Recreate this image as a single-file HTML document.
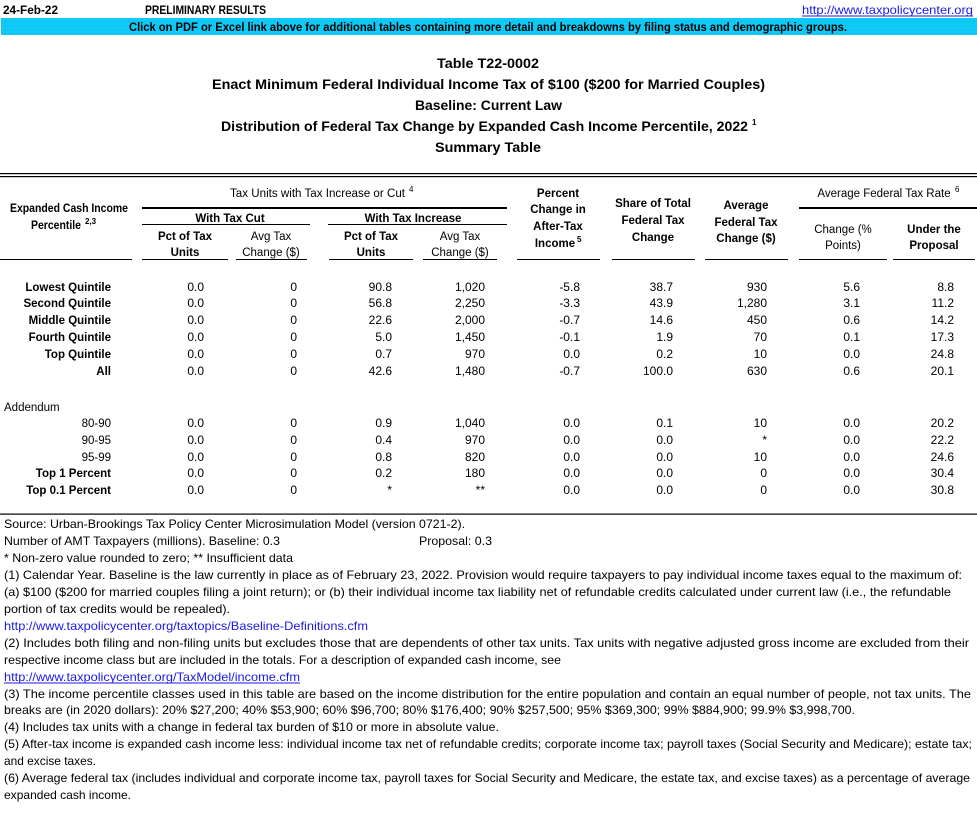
<!DOCTYPE html>
<html><head><meta charset="utf-8"><style>
html,body{margin:0;padding:0;background:#fff;}
svg{display:block;}
text{font-family:"Liberation Sans",Arial,sans-serif;fill:#000;}
.b{font-weight:bold;}
.h{font-size:11.5px;}
.d{font-size:12px;}
.f{font-size:12px;}
.t{font-size:13.5px;font-weight:bold;}
.lnk{fill:#1a1ae6;}
.sup{font-size:8px;}
</style></head><body>
<svg width="977" height="821" viewBox="0 0 977 821" xmlns="http://www.w3.org/2000/svg">
<defs>
<pattern id="dots" width="4" height="4" patternUnits="userSpaceOnUse">
<rect width="4" height="4" fill="#0fcaf6"/><rect x="1" y="1" width="1" height="1" fill="#0ab4e0"/>
</pattern>
</defs>
<!-- top line -->
<text x="3" y="14" class="b f" textLength="55" lengthAdjust="spacingAndGlyphs">24-Feb-22</text>
<text x="145" y="14" class="b f" textLength="121" lengthAdjust="spacingAndGlyphs">PRELIMINARY RESULTS</text>
<text x="802" y="14" class="f lnk" textLength="171" lengthAdjust="spacingAndGlyphs">http://www.taxpolicycenter.org</text>
<rect x="802" y="15.5" width="171" height="1" fill="#1a1ae6"/>
<rect x="1" y="18" width="976" height="17" fill="url(#dots)"/>
<text x="129" y="31" class="b f" textLength="718" lengthAdjust="spacingAndGlyphs">Click on PDF or Excel link above for additional tables containing more detail and breakdowns by filing status and demographic groups.</text>

<!-- titles -->
<text x="437" y="68" class="t" textLength="102" lengthAdjust="spacingAndGlyphs">Table T22-0002</text>
<text x="212" y="89" class="t" textLength="553" lengthAdjust="spacingAndGlyphs">Enact Minimum Federal Individual Income Tax of $100 ($200 for Married Couples)</text>
<text x="415" y="110" class="t" textLength="147" lengthAdjust="spacingAndGlyphs">Baseline: Current Law</text>
<text x="221" y="131" class="t" textLength="527" lengthAdjust="spacingAndGlyphs">Distribution of Federal Tax Change by Expanded Cash Income Percentile, 2022</text>
<text x="752" y="125" class="b sup">1</text>
<text x="435" y="152" class="t" textLength="106" lengthAdjust="spacingAndGlyphs">Summary Table</text>

<!-- header rules -->
<rect x="0" y="173" width="977" height="1.2" fill="#000"/>
<rect x="0" y="176" width="977" height="1.2" fill="#000"/>
<rect x="142" y="207" width="365" height="2" fill="#000"/>
<rect x="799" y="207" width="178" height="2" fill="#000"/>
<rect x="142" y="224" width="168" height="1" fill="#000"/>
<rect x="328" y="224" width="179" height="1" fill="#000"/>
<g fill="#000">
<rect x="0" y="259" width="132" height="1"/>
<rect x="142" y="259" width="86" height="1"/>
<rect x="236" y="259" width="71" height="1"/>
<rect x="329" y="259" width="84" height="1"/>
<rect x="423" y="259" width="74" height="1"/>
<rect x="517" y="259" width="83" height="1"/>
<rect x="612" y="259" width="83" height="1"/>
<rect x="705" y="259" width="83" height="1"/>
<rect x="799" y="259" width="88" height="1"/>
<rect x="893" y="259" width="82" height="1"/>
</g>

<!-- header text -->
<text x="10" y="212" class="b h" textLength="118" lengthAdjust="spacingAndGlyphs">Expanded Cash Income</text>
<text x="31" y="229" class="b h" textLength="50" lengthAdjust="spacingAndGlyphs">Percentile</text>
<text x="85" y="224" class="b sup">2,3</text>
<text x="230" y="197" class="h" textLength="175" lengthAdjust="spacingAndGlyphs">Tax Units with Tax Increase or Cut</text>
<text x="409" y="192" class="sup">4</text>
<g class="h" text-anchor="middle">
<text x="230" y="222" class="b">With Tax Cut</text>
<text x="413" y="222" class="b">With Tax Increase</text>
<text x="185" y="240" class="b">Pct of Tax</text>
<text x="185" y="256" class="b">Units</text>
<text x="271" y="240">Avg Tax</text>
<text x="271" y="256">Change ($)</text>
<text x="371" y="240" class="b">Pct of Tax</text>
<text x="371" y="256" class="b">Units</text>
<text x="460" y="240">Avg Tax</text>
<text x="460" y="256">Change ($)</text>
<text x="558" y="197" class="b">Percent</text>
<text x="558" y="213" class="b">Change in</text>
<text x="558" y="230" class="b">After-Tax</text>
<text x="555" y="247" class="b">Income</text>
<text x="653" y="207" class="b">Share of Total</text>
<text x="653" y="224" class="b">Federal Tax</text>
<text x="653" y="241" class="b">Change</text>
<text x="746" y="209" class="b">Average</text>
<text x="746" y="226" class="b">Federal Tax</text>
<text x="746" y="242" class="b">Change ($)</text>
<text x="884" y="197">Average Federal Tax Rate</text>
<text x="843" y="233">Change (%</text>
<text x="843" y="249">Points)</text>
<text x="934" y="233" class="b">Under the</text>
<text x="934" y="249" class="b">Proposal</text>
</g>
<text x="577" y="242" class="b sup">5</text>
<text x="955" y="192" class="sup">6</text>

<!-- data rows -->
<g class="d" text-anchor="end">
<g class="b h">
<text x="111" y="291">Lowest Quintile</text>
<text x="111" y="307">Second Quintile</text>
<text x="111" y="324">Middle Quintile</text>
<text x="111" y="341">Fourth Quintile</text>
<text x="111" y="358">Top Quintile</text>
<text x="111" y="375">All</text>
<text x="111" y="477">Top 1 Percent</text>
<text x="111" y="494">Top 0.1 Percent</text>
</g>
<g class="h">
<text x="111" y="427">80-90</text>
<text x="111" y="444">90-95</text>
<text x="111" y="461">95-99</text>
</g>
<text x="204" y="291">0.0</text><text x="297" y="291">0</text><text x="392" y="291">90.8</text><text x="485" y="291">1,020</text><text x="580" y="291">-5.8</text><text x="673" y="291">38.7</text><text x="767" y="291">930</text><text x="860" y="291">5.6</text><text x="954" y="291">8.8</text>
<text x="204" y="307">0.0</text><text x="297" y="307">0</text><text x="392" y="307">56.8</text><text x="485" y="307">2,250</text><text x="580" y="307">-3.3</text><text x="673" y="307">43.9</text><text x="767" y="307">1,280</text><text x="860" y="307">3.1</text><text x="954" y="307">11.2</text>
<text x="204" y="324">0.0</text><text x="297" y="324">0</text><text x="392" y="324">22.6</text><text x="485" y="324">2,000</text><text x="580" y="324">-0.7</text><text x="673" y="324">14.6</text><text x="767" y="324">450</text><text x="860" y="324">0.6</text><text x="954" y="324">14.2</text>
<text x="204" y="341">0.0</text><text x="297" y="341">0</text><text x="392" y="341">5.0</text><text x="485" y="341">1,450</text><text x="580" y="341">-0.1</text><text x="673" y="341">1.9</text><text x="767" y="341">70</text><text x="860" y="341">0.1</text><text x="954" y="341">17.3</text>
<text x="204" y="358">0.0</text><text x="297" y="358">0</text><text x="392" y="358">0.7</text><text x="485" y="358">970</text><text x="580" y="358">0.0</text><text x="673" y="358">0.2</text><text x="767" y="358">10</text><text x="860" y="358">0.0</text><text x="954" y="358">24.8</text>
<text x="204" y="375">0.0</text><text x="297" y="375">0</text><text x="392" y="375">42.6</text><text x="485" y="375">1,480</text><text x="580" y="375">-0.7</text><text x="673" y="375">100.0</text><text x="767" y="375">630</text><text x="860" y="375">0.6</text><text x="954" y="375">20.1</text>

<text x="204" y="427">0.0</text><text x="297" y="427">0</text><text x="392" y="427">0.9</text><text x="485" y="427">1,040</text><text x="580" y="427">0.0</text><text x="673" y="427">0.1</text><text x="767" y="427">10</text><text x="860" y="427">0.0</text><text x="954" y="427">20.2</text>
<text x="204" y="444">0.0</text><text x="297" y="444">0</text><text x="392" y="444">0.4</text><text x="485" y="444">970</text><text x="580" y="444">0.0</text><text x="673" y="444">0.0</text><text x="767" y="444">*</text><text x="860" y="444">0.0</text><text x="954" y="444">22.2</text>
<text x="204" y="461">0.0</text><text x="297" y="461">0</text><text x="392" y="461">0.8</text><text x="485" y="461">820</text><text x="580" y="461">0.0</text><text x="673" y="461">0.0</text><text x="767" y="461">10</text><text x="860" y="461">0.0</text><text x="954" y="461">24.6</text>
<text x="204" y="477">0.0</text><text x="297" y="477">0</text><text x="392" y="477">0.2</text><text x="485" y="477">180</text><text x="580" y="477">0.0</text><text x="673" y="477">0.0</text><text x="767" y="477">0</text><text x="860" y="477">0.0</text><text x="954" y="477">30.4</text>
<text x="204" y="494">0.0</text><text x="297" y="494">0</text><text x="392" y="494">*</text><text x="485" y="494">**</text><text x="580" y="494">0.0</text><text x="673" y="494">0.0</text><text x="767" y="494">0</text><text x="860" y="494">0.0</text><text x="954" y="494">30.8</text>
</g>
<text x="4" y="411" class="h">Addendum</text>

<rect x="0" y="513.5" width="977" height="1.2" fill="#000"/>

<!-- footnotes -->
<g class="f">
<text x="4" y="528" textLength="461" lengthAdjust="spacingAndGlyphs">Source: Urban-Brookings Tax Policy Center Microsimulation Model (version 0721-2).</text>
<text x="4" y="545" textLength="276" lengthAdjust="spacingAndGlyphs">Number of AMT Taxpayers (millions).  Baseline: 0.3</text>
<text x="419" y="545" textLength="73" lengthAdjust="spacingAndGlyphs">Proposal: 0.3</text>
<text x="4" y="562" textLength="289" lengthAdjust="spacingAndGlyphs">* Non-zero value rounded to zero; ** Insufficient data</text>
<text x="4" y="579" textLength="958" lengthAdjust="spacingAndGlyphs">(1) Calendar Year. Baseline is the law currently in place as of February 23, 2022. Provision would require taxpayers to pay individual income taxes equal to the maximum of:</text>
<text x="4" y="596" textLength="947" lengthAdjust="spacingAndGlyphs">(a) $100 ($200 for married couples filing a joint return); or (b) their individual income tax liability net of refundable credits calculated under current law (i.e., the refundable</text>
<text x="4" y="613" textLength="226" lengthAdjust="spacingAndGlyphs">portion of tax credits would be repealed).</text>
<text x="4" y="630" class="lnk" textLength="364" lengthAdjust="spacingAndGlyphs">http://www.taxpolicycenter.org/taxtopics/Baseline-Definitions.cfm</text>
<text x="4" y="647" textLength="965" lengthAdjust="spacingAndGlyphs">(2) Includes both filing and non-filing units but excludes those that are dependents of other tax units. Tax units with negative adjusted gross income are excluded from their</text>
<text x="4" y="664" textLength="557" lengthAdjust="spacingAndGlyphs">respective income class but are included in the totals. For a description of expanded cash income, see</text>
<text x="4" y="681" class="lnk" textLength="296" lengthAdjust="spacingAndGlyphs">http://www.taxpolicycenter.org/TaxModel/income.cfm</text>
<text x="4" y="698" textLength="967" lengthAdjust="spacingAndGlyphs">(3) The income percentile classes used in this table are based on the income distribution for the entire population and contain an equal number of people, not tax units. The</text>
<text x="4" y="714" textLength="851" lengthAdjust="spacingAndGlyphs">breaks are (in 2020 dollars): 20% $27,200; 40% $53,900; 60% $96,700; 80% $176,400; 90% $257,500; 95% $369,300; 99% $884,900; 99.9% $3,998,700.</text>
<text x="4" y="731" textLength="495" lengthAdjust="spacingAndGlyphs">(4) Includes tax units with a change in federal tax burden of $10 or more in absolute value.</text>
<text x="4" y="748" textLength="968" lengthAdjust="spacingAndGlyphs">(5) After-tax income is expanded cash income less: individual income tax net of refundable credits; corporate income tax; payroll taxes (Social Security and Medicare); estate tax;</text>
<text x="4" y="765" textLength="92" lengthAdjust="spacingAndGlyphs">and excise taxes.</text>
<text x="4" y="782" textLength="966" lengthAdjust="spacingAndGlyphs">(6) Average federal tax (includes individual and corporate income tax, payroll taxes for Social Security and Medicare, the estate tax, and excise taxes) as a percentage of average</text>
<text x="4" y="799" textLength="127" lengthAdjust="spacingAndGlyphs">expanded cash income.</text>
</g>
<rect x="4" y="682.5" width="296" height="1" fill="#1a1ae6"/>
</svg>
</body></html>
